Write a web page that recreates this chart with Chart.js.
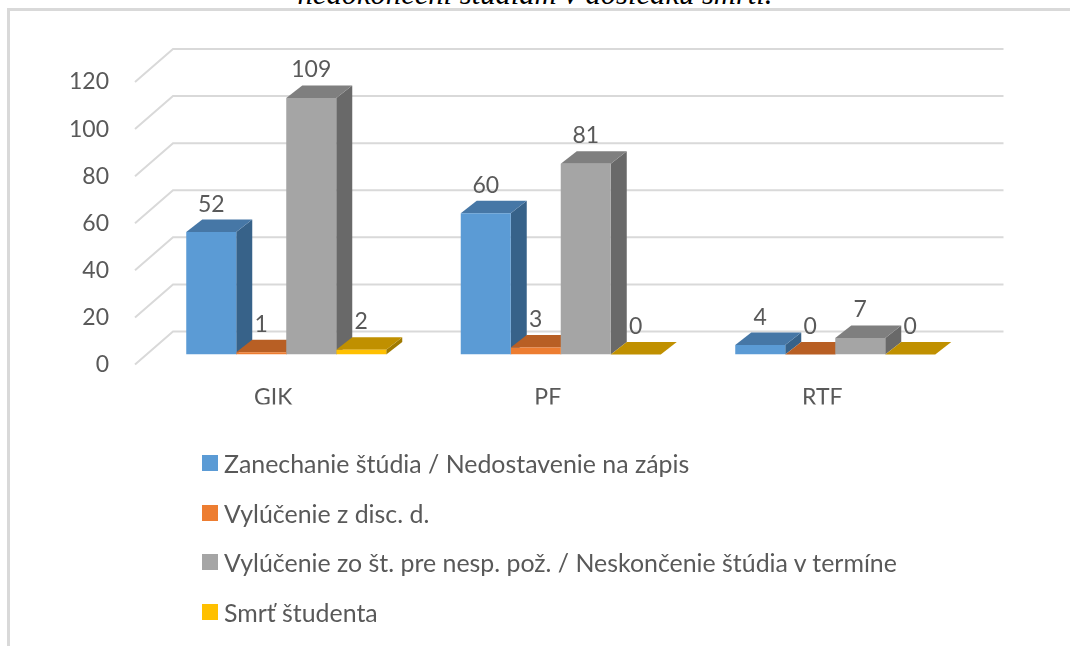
<!DOCTYPE html>
<html>
<head>
<meta charset="utf-8">
<script src="https://cdn.jsdelivr.net/npm/chart.js@4"></script>
<style>
html, body { margin: 0; background: #fff; overflow: hidden; }
#wrap { position: relative; width: 1070px; height: 646px; overflow: hidden; }
#frame { position: absolute; left: 7px; top: 8px; right: -10px; bottom: -10px; border: 3px solid #d9d9d9; }
#title { position: absolute; left: 0; width: 1070px; top: -21px; line-height: 30px; text-align: center; font-family: "Liberation Serif", serif; font-style: italic; font-size: 30.6px; color: #000; }
canvas { position: absolute; left: 0; top: 0; }
#legend { position: absolute; left: 202px; top: 438.5px; font: 24.9px Lato, sans-serif; color: #595959; }
#legend div { display: flex; align-items: center; height: 49.6px; white-space: nowrap; }
#legend i { display: block; width: 16px; height: 16px; margin-right: 6px; }
</style>
</head>
<body>
<div id="wrap">
  <div id="frame"></div>
  <div id="title">nedokončení štúdiám v dôsledku smrti.</div>
  <canvas id="chart" width="1070" height="646"></canvas>
  <div id="legend"></div>
</div>
<script>
const categories = ['GIK', 'PF', 'RTF'];
const seriesNames = [
    'Zanechanie štúdia / Nedostavenie na zápis',
    'Vylúčenie z disc. d.',
    'Vylúčenie zo št. pre nesp. pož. / Neskončenie štúdia v termíne',
    'Smrť študenta'
];
const dropouts = [52, 60, 4];
const expelledDisc = [1, 3, 0];
const expelledStudy = [109, 81, 7];
const deaths = [2, 0, 0];
const seriesValues = [dropouts, expelledDisc, expelledStudy, deaths];

const frontColors = ['#5b9bd5', '#ed7d31', '#a5a5a5', '#ffc000'];
const topColors = ['#4677a6', '#b85f24', '#7f7f7f', '#c09000'];
const sideColors = ['#376289', '#9c5020', '#696969', '#a07a00'];

const textColor = '#595959';
const gridColor = '#d9d9d9';
const fontName = 'Lato';

// the bars stand a bit behind the front edge of the floor
const barShift = { x: 13, y: -10 };
const barDepth = { x: 16, y: -12.5 };
const wallDepth = { x: 38, y: -33 };

function face(ctx, color, pts) {
    ctx.fillStyle = color;
    ctx.beginPath();
    pts.forEach((p, i) => i ? ctx.lineTo(p[0], p[1]) : ctx.moveTo(p[0], p[1]));
    ctx.closePath();
    ctx.fill();
}

const fake3d = {
    id: 'fake3d',
    beforeDatasetsDraw(chart) {
        const ctx = chart.ctx;
        const a = chart.chartArea;
        const yScale = chart.scales.y;
        ctx.save();
        ctx.strokeStyle = gridColor;
        ctx.lineWidth = 2;
        yScale.ticks.forEach(t => {
            const y = yScale.getPixelForValue(t.value);
            ctx.beginPath();
            ctx.moveTo(a.left - 1, y);
            ctx.lineTo(a.left - 1 + wallDepth.x, y + wallDepth.y);
            ctx.lineTo(a.right + 44, y + wallDepth.y);
            ctx.stroke();
        });
        ctx.restore();
        ctx.save();
        ctx.translate(barShift.x, barShift.y);
        // sides and tops first, left to right; the library paints the fronts over them
        seriesNames.forEach((name, i) => {
            chart.getDatasetMeta(i).data.forEach(bar => {
                const l = bar.x - bar.width / 2;
                const r = bar.x + bar.width / 2;
                const t = bar.y;
                const b = bar.base;
                const dx = barDepth.x;
                const dy = barDepth.y;
                face(ctx, sideColors[i], [[r, t], [r + dx, t + dy], [r + dx, b + dy], [r, b]]);
                face(ctx, topColors[i], [[l, t], [l + dx, t + dy], [r + dx, t + dy], [r, t]]);
            });
        });
    },
    afterDatasetsDraw(chart) {
        const ctx = chart.ctx;
        ctx.textAlign = 'center';
        ctx.textBaseline = 'middle';
        ctx.font = '23px ' + fontName;
        ctx.fillStyle = textColor;
        chart.data.datasets.forEach((ds, i) => {
            chart.getDatasetMeta(i).data.forEach((bar, j) => {
                ctx.fillText(ds.data[j], bar.x, bar.y - 28);
            });
        });
        ctx.restore();
    }
};

new Chart(document.getElementById('chart'), {
    type: 'bar',
    data: {
        labels: categories,
        datasets: seriesNames.map((name, i) => ({
            label: name,
            data: seriesValues[i],
            backgroundColor: frontColors[i],
            categoryPercentage: 0.7286,
            barPercentage: 1
        }))
    },
    options: {
        responsive: false,
        animation: false,
        layout: { padding: { left: 20, right: 110.5, top: 82, bottom: 241.5 } },
        scales: {
            x: {
                afterFit(scale) { scale.height = 40; },
                grid: { display: false, drawTicks: false },
                border: { display: false },
                ticks: { color: textColor, font: { family: fontName, size: 23 }, padding: 19 }
            },
            y: {
                min: 0,
                max: 120,
                afterFit(scale) { scale.width = 116; },
                grid: { display: false, drawTicks: false },
                border: { display: false },
                ticks: { stepSize: 20, color: textColor, font: { family: fontName, size: 23 }, padding: 27 }
            }
        },
        plugins: {
            tooltip: { enabled: false },
            legend: { display: false }
        }
    },
    plugins: [fake3d]
});

const legendBox = document.getElementById('legend');
seriesNames.forEach((name, i) => {
    const row = document.createElement('div');
    const mark = document.createElement('i');
    mark.style.background = frontColors[i];
    row.appendChild(mark);
    row.appendChild(document.createTextNode(name));
    legendBox.appendChild(row);
});
</script>
</body>
</html>
